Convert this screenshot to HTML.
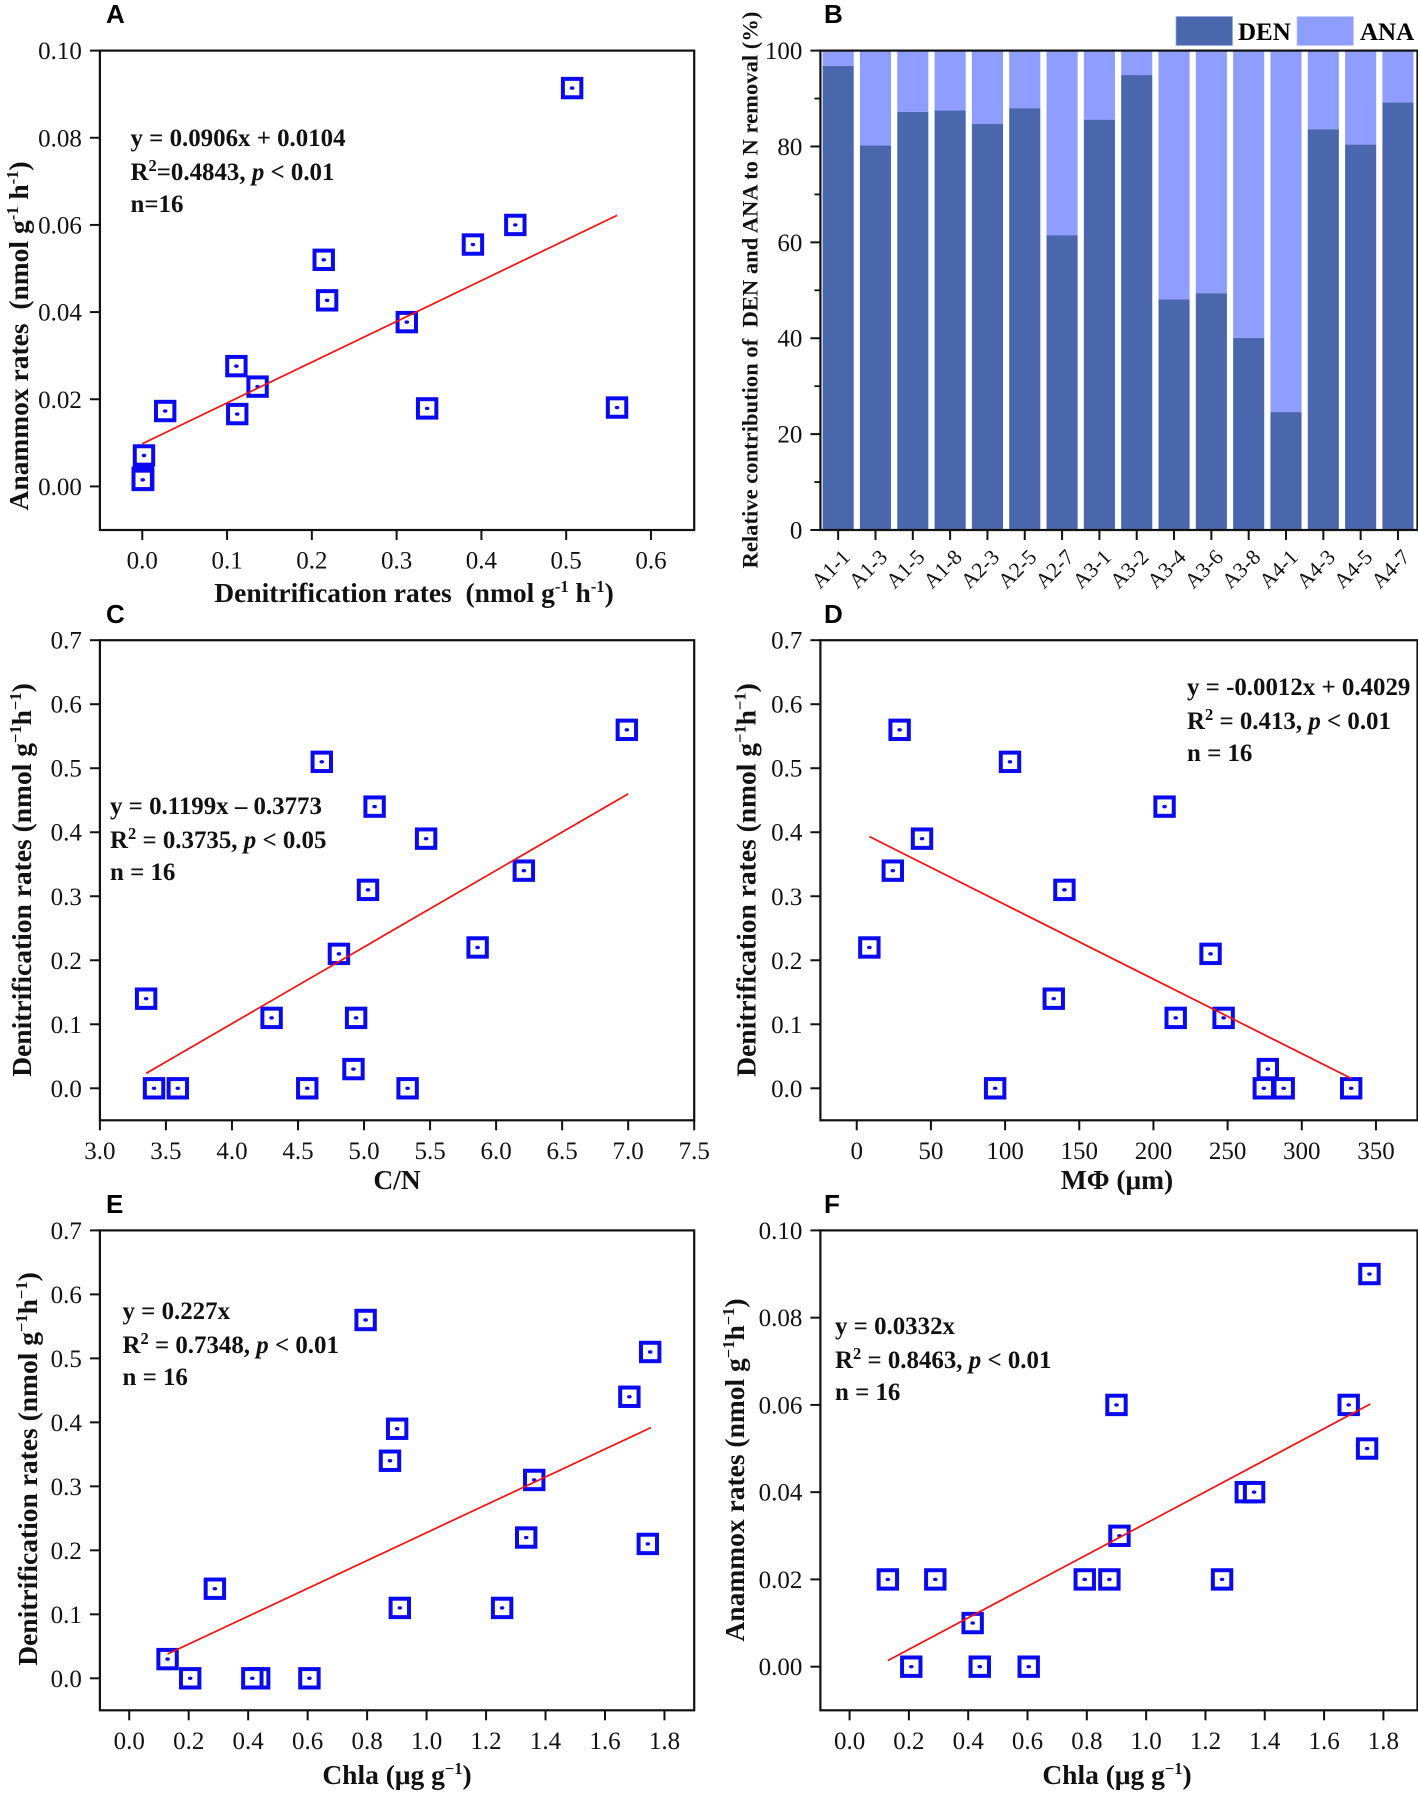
<!DOCTYPE html>
<html lang="en">
<head>
<meta charset="utf-8">
<title>Denitrification and anammox rates, six-panel figure</title>
<style>
  html, body { margin: 0; padding: 0; background: #fff; }
  svg { display: block; }
  text { font-family: "Liberation Serif", serif; fill: #111; }
  .tick { font-size: 25px; }
  .title { font-size: 27.5px; font-weight: bold; }
  .note { font-size: 24.9px; font-weight: bold; }
  .panel { font-family: "Liberation Sans", sans-serif; font-size: 26px; font-weight: bold; fill: #000; }
  .legend { font-size: 25px; font-weight: bold; fill: #000; }
  .sup { font-size: 16.5px; }
  .it { font-style: italic; }
</style>
</head>
<body>
<svg id="figure" xmlns="http://www.w3.org/2000/svg" width="1418" height="1793" viewBox="0 0 1418 1793">
  <rect width="1418" height="1793" fill="#fff"/>
  <g id="marks"></g>

  <g>
    <text class="panel" x="106" y="23">A</text>
    <text class="panel" x="824" y="23">B</text>
    <text class="panel" x="106" y="623">C</text>
    <text class="panel" x="824" y="623">D</text>
    <text class="panel" x="106" y="1213">E</text>
    <text class="panel" x="824" y="1213">F</text>
  </g>

  <g>
    <text class="title" text-anchor="middle" x="414" y="602">Denitrification rates&#160; (nmol g<tspan class="sup" dy="-10">-1</tspan><tspan dy="10"> h</tspan><tspan class="sup" dy="-10">-1</tspan><tspan dy="10">)</tspan></text>
    <text class="title" text-anchor="middle" transform="translate(28,336) rotate(-90)">Anammox rates&#160; (nmol g<tspan class="sup" dy="-10">-1</tspan><tspan dy="10"> h</tspan><tspan class="sup" dy="-10">-1</tspan><tspan dy="10">)</tspan></text>
    <text class="title" text-anchor="middle" transform="translate(757.5,290) rotate(-90)" style="font-size:22.6px">Relative contribution of&#160; DEN and ANA to N removal (%)</text>
    <text class="title" text-anchor="middle" x="397" y="1189">C/N</text>
    <text class="title" text-anchor="middle" transform="translate(31,880) rotate(-90)">Denitrification rates (nmol g<tspan class="sup" dy="-10">−1</tspan><tspan dy="10">h</tspan><tspan class="sup" dy="-10">−1</tspan><tspan dy="10">)</tspan></text>
    <text class="title" text-anchor="middle" x="1117" y="1189">MΦ (μm)</text>
    <text class="title" text-anchor="middle" transform="translate(755.5,880) rotate(-90)">Denitrification rates (nmol g<tspan class="sup" dy="-10">−1</tspan><tspan dy="10">h</tspan><tspan class="sup" dy="-10">−1</tspan><tspan dy="10">)</tspan></text>
    <text class="title" text-anchor="middle" x="397" y="1784">Chla (μg g<tspan class="sup" dy="-10">−1</tspan><tspan dy="10">)</tspan></text>
    <text class="title" text-anchor="middle" transform="translate(37,1469) rotate(-90)">Denitrification rates (nmol g<tspan class="sup" dy="-10">−1</tspan><tspan dy="10">h</tspan><tspan class="sup" dy="-10">−1</tspan><tspan dy="10">)</tspan></text>
    <text class="title" text-anchor="middle" x="1117" y="1784">Chla (μg g<tspan class="sup" dy="-10">−1</tspan><tspan dy="10">)</tspan></text>
    <text class="title" text-anchor="middle" transform="translate(744,1470) rotate(-90)">Anammox rates (nmol g<tspan class="sup" dy="-10">−1</tspan><tspan dy="10">h</tspan><tspan class="sup" dy="-10">−1</tspan><tspan dy="10">)</tspan></text>
  </g>

  <g>
    <g>
      <text class="note" x="130.5" y="146">y = 0.0906x + 0.0104</text>
      <text class="note" x="130.5" y="180">R<tspan class="sup" dy="-9">2</tspan><tspan dy="9">=0.4843, </tspan><tspan class="it">p</tspan> &lt; 0.01</text>
      <text class="note" x="130.5" y="212">n=16</text>
    </g>
    <g>
      <text class="note" x="110" y="814">y = 0.1199x – 0.3773</text>
      <text class="note" x="110" y="848">R<tspan class="sup" dy="-9">2</tspan><tspan dy="9"> = 0.3735, </tspan><tspan class="it">p</tspan> &lt; 0.05</text>
      <text class="note" x="110" y="880">n = 16</text>
    </g>
    <g>
      <text class="note" x="1187" y="695">y = -0.0012x + 0.4029</text>
      <text class="note" x="1187" y="729">R<tspan class="sup" dy="-9">2</tspan><tspan dy="9"> = 0.413, </tspan><tspan class="it">p</tspan> &lt; 0.01</text>
      <text class="note" x="1187" y="761">n = 16</text>
    </g>
    <g>
      <text class="note" x="122.5" y="1319">y = 0.227x</text>
      <text class="note" x="122.5" y="1353">R<tspan class="sup" dy="-9">2</tspan><tspan dy="9"> = 0.7348, </tspan><tspan class="it">p</tspan> &lt; 0.01</text>
      <text class="note" x="122.5" y="1385">n = 16</text>
    </g>
    <g>
      <text class="note" x="835" y="1334">y = 0.0332x</text>
      <text class="note" x="835" y="1368">R<tspan class="sup" dy="-9">2</tspan><tspan dy="9"> = 0.8463, </tspan><tspan class="it">p</tspan> &lt; 0.01</text>
      <text class="note" x="835" y="1400">n = 16</text>
    </g>
  </g>

  <g>
    <rect x="1176" y="16.5" width="56.5" height="29" fill="#4a66ac" stroke="#93a8e0" stroke-width="0.8"/>
    <text class="legend" x="1238" y="40">DEN</text>
    <rect x="1297" y="16.5" width="56.5" height="29" fill="#8f9dff" stroke="#c3cbff" stroke-width="0.8"/>
    <text class="legend" x="1360" y="40">ANA</text>
  </g>
</svg>

<script>
// Panel A: anammox vs denitrification
const aXValues = [0.507, 0.440, 0.390, 0.214, 0.218, 0.312, 0.111, 0.136, 0.027, 0.112, 0.336, 0.560, 0.0005, 0.001, 0.001, 0.0005];
const aYValues = [0.0914, 0.0600, 0.0555, 0.0520, 0.0427, 0.0377, 0.0276, 0.0229, 0.0173, 0.0166, 0.0179, 0.0181, 0.0020, 0.0018, 0.0015, 0.0015];
const aExtraX = [0.002];
const aExtraY = [0.0071];
const aLineX = [0.000, 0.560];
const aLineY = [0.0098, 0.0622];
const aXTicks = ['0.0', '0.1', '0.2', '0.3', '0.4', '0.5', '0.6'];
const aYTicks = ['0.00', '0.02', '0.04', '0.06', '0.08', '0.10'];

// Panel B: stacked bars
const bCategories = ['A1-1', 'A1-3', 'A1-5', 'A1-8', 'A2-3', 'A2-5', 'A2-7', 'A3-1', 'A3-2', 'A3-4', 'A3-6', 'A3-8', 'A4-1', 'A4-3', 'A4-5', 'A4-7'];
const bDen = [96.8, 80.2, 87.2, 87.5, 84.7, 88.0, 61.5, 85.6, 94.9, 48.1, 49.4, 40.1, 24.6, 83.6, 80.4, 89.2];
const bAna = [3.2, 19.8, 12.8, 12.5, 15.3, 12.0, 38.5, 14.4, 5.1, 51.9, 50.6, 59.9, 75.4, 16.4, 19.6, 10.8];
const bYTicks = ['0', '20', '40', '60', '80', '100'];
const bYMinorTicks = [10, 30, 50, 70, 90];

// Panel C: denitrification vs C/N
const cXValues = [3.35, 3.41, 3.59, 4.30, 4.57, 4.68, 4.81, 4.92, 4.94, 5.03, 5.08, 5.33, 5.47, 5.86, 6.21, 6.99];
const cYValues = [0.14, 0.00, 0.00, 0.11, 0.00, 0.51, 0.21, 0.03, 0.11, 0.31, 0.44, 0.00, 0.39, 0.22, 0.34, 0.56];
const cLineX = [3.35, 7.00];
const cLineY = [0.0233, 0.460];
const cXTicks = ['3.0', '3.5', '4.0', '4.5', '5.0', '5.5', '6.0', '6.5', '7.0', '7.5'];
const cYTicks = ['0.0', '0.1', '0.2', '0.3', '0.4', '0.5', '0.6', '0.7'];

// Panel D: denitrification vs mean grain size
const dXValues = [8.5, 24.3, 28.9, 44.0, 93.3, 103.3, 132.8, 140.0, 207.5, 215.0, 238.5, 247.3, 274.4, 277.1, 287.8, 333.3];
const dYValues = [0.22, 0.34, 0.56, 0.39, 0.00, 0.51, 0.14, 0.31, 0.44, 0.11, 0.21, 0.11, 0.00, 0.03, 0.00, 0.00];
const dLineX = [8.5, 333.3];
const dLineY = [0.3933, 0.0155];
const dXTicks = ['0', '50', '100', '150', '200', '250', '300', '350'];
const dYTicks = ['0.0', '0.1', '0.2', '0.3', '0.4', '0.5', '0.6', '0.7'];

// Panel E: denitrification vs Chla
const eXValues = [0.129, 0.205, 0.288, 0.437, 0.414, 0.606, 0.795, 0.877, 0.901, 0.910, 1.254, 1.335, 1.362, 1.682, 1.744, 1.752];
const eYValues = [0.03, 0.00, 0.14, 0.00, 0.00, 0.00, 0.56, 0.34, 0.39, 0.11, 0.11, 0.22, 0.31, 0.44, 0.21, 0.51];
const eLineX = [0.129, 1.755];
const eLineY = [0.038, 0.392];
const eXTicks = ['0.0', '0.2', '0.4', '0.6', '0.8', '1.0', '1.2', '1.4', '1.6', '1.8'];
const eYTicks = ['0.0', '0.1', '0.2', '0.3', '0.4', '0.5', '0.6', '0.7'];

// Panel F: anammox vs Chla
const fXValues = [0.129, 0.208, 0.289, 0.415, 0.439, 0.604, 0.793, 0.876, 0.900, 0.910, 1.256, 1.336, 1.364, 1.683, 1.745, 1.753];
const fYValues = [0.02, 0.00, 0.02, 0.01, 0.00, 0.00, 0.02, 0.02, 0.06, 0.03, 0.02, 0.04, 0.04, 0.06, 0.05, 0.09];
const fLineX = [0.129, 1.756];
const fLineY = [0.0014, 0.0602];
const fXTicks = ['0.0', '0.2', '0.4', '0.6', '0.8', '1.0', '1.2', '1.4', '1.6', '1.8'];
const fYTicks = ['0.00', '0.02', '0.04', '0.06', '0.08', '0.10'];

const SVG_NS = 'http://www.w3.org/2000/svg';
const root = document.getElementById('marks');

function make(tag, attrs, parent) {
  const node = document.createElementNS(SVG_NS, tag);
  for (const key in attrs) node.setAttribute(key, attrs[key]);
  parent.appendChild(node);
  return node;
}

function linearScale(d0, d1, r0, r1) {
  return function (v) { return r0 + (v - d0) / (d1 - d0) * (r1 - r0); };
}

function drawFrame(prefix, box, parent) {
  const frame = make('rect', { x: box.x0, y: box.y0, width: box.x1 - box.x0, height: box.y1 - box.y0, fill: 'none', stroke: '#111', 'stroke-width': 2.2 }, parent);
  
  
}

function drawYAxis(prefix, box, y, labels, parent) {
  const axis = make('g', {}, parent);
  
  
  labels.forEach(function (label) {
    const py = y(parseFloat(label));
    const tick = make('line', { x1: box.x0 - 10, x2: box.x0, y1: py, y2: py, stroke: '#111', 'stroke-width': 2 }, axis);
    
    
    const text = make('text', { class: 'tick', x: box.x0 - 18, y: py + 8.5, 'text-anchor': 'end' }, axis);
    text.textContent = label;
    
    
  });
}

function drawXAxis(prefix, box, x, labels, parent) {
  const axis = make('g', {}, parent);
  
  
  labels.forEach(function (label) {
    const px = x(parseFloat(label));
    const tick = make('line', { x1: px, x2: px, y1: box.y1, y2: box.y1 + 10, stroke: '#111', 'stroke-width': 2 }, axis);
    
    
    const text = make('text', { class: 'tick', x: px, y: box.y1 + 38.5, 'text-anchor': 'middle' }, axis);
    text.textContent = label;
    
    
  });
}

function drawScatter(prefix, box, xDomain, yDomain, xValues, yValues, lineX, lineY, xTicks, yTicks) {
  const group = make('g', {}, root);
  
  
  const x = linearScale(xDomain[0], xDomain[1], box.x0, box.x1);
  const y = linearScale(yDomain[0], yDomain[1], box.y1, box.y0);

  xValues.forEach(function (xv, i) {
    const px = x(xv);
    const py = y(yValues[i]);
    const point = make('g', {}, group);
    
    
    make('rect', { x: px - 9.2, y: py - 9.2, width: 18.4, height: 18.4, fill: '#fff', stroke: '#0a0af0', 'stroke-width': 4 }, point);
    make('ellipse', { cx: px, cy: py, rx: 2.3, ry: 1.7, fill: '#0a0af0' }, point);
  });

  const fit = make('line', { x1: x(lineX[0]), y1: y(lineY[0]), x2: x(lineX[1]), y2: y(lineY[1]), stroke: '#fb0d0d', 'stroke-width': 1.7 }, group);
  
  

  drawFrame(prefix, box, group);
  drawYAxis(prefix, box, y, yTicks, group);
  drawXAxis(prefix, box, x, xTicks, group);
}

function drawStackedBars(prefix, box, bandStart, step, categories, den, ana, yTicks, yMinor) {
  const group = make('g', {}, root);
  
  
  const y = linearScale(0, 100, box.y1, box.y0);
  const bandX = function (i) { return bandStart + step * (i + 0.5); };
  const barWidth = 31.1;

  categories.forEach(function (cat, i) {
    const cx = bandX(i);
    const lower = make('rect', { x: cx - barWidth / 2, y: y(den[i]), width: barWidth, height: y(0) - y(den[i]), fill: '#4a66ac' }, group);
    
    
    const upper = make('rect', { x: cx - barWidth / 2, y: y(den[i] + ana[i]), width: barWidth, height: y(den[i]) - y(den[i] + ana[i]), fill: '#8f9dff' }, group);
    
    
    const tick = make('line', { x1: cx, x2: cx, y1: box.y1, y2: box.y1 + 10, stroke: '#111', 'stroke-width': 2 }, group);
    
    
    const label = make('text', { 'text-anchor': 'middle', transform: 'translate(' + (cx - 2.5) + ',' + (box.y1 + 44) + ') rotate(-45)', style: 'font-size:21.5px' }, group);
    label.textContent = cat;
    
    
  });

  drawFrame(prefix, box, group);
  drawYAxis(prefix, box, y, yTicks, group);
  yMinor.forEach(function (v) {
    const minor = make('line', { x1: box.x0 - 6, x2: box.x0, y1: y(v), y2: y(v), stroke: '#111', 'stroke-width': 1.8 }, group);
    
    
  });
}

drawScatter('panel-a', { x0: 99.9, x1: 694.2, y0: 50.6, y1: 530 }, [-0.05, 0.651], [-0.01, 0.10], aXValues.concat(aExtraX), aYValues.concat(aExtraY), aLineX, aLineY, aXTicks, aYTicks);
drawStackedBars('panel-b', { x0: 820.4, x1: 1417.5, y0: 50.6, y1: 530 }, 819.5, 37.32, bCategories, bDen, bAna, bYTicks, bYMinorTicks);
drawScatter('panel-c', { x0: 99.9, x1: 694.2, y0: 640.2, y1: 1120.3 }, [3.0, 7.5], [-0.05, 0.7], cXValues, cYValues, cLineX, cLineY, cXTicks, cYTicks);
drawScatter('panel-d', { x0: 820.4, x1: 1417.5, y0: 640.2, y1: 1120.3 }, [-24.5, 378], [-0.05, 0.7], dXValues, dYValues, dLineX, dLineY, dXTicks, dYTicks);
drawScatter('panel-e', { x0: 99.9, x1: 694.2, y0: 1230.4, y1: 1710.3 }, [-0.0986, 1.9], [-0.05, 0.7], eXValues, eYValues, eLineX, eLineY, eXTicks, eYTicks);
drawScatter('panel-f', { x0: 820.4, x1: 1417.5, y0: 1230.4, y1: 1710.3 }, [-0.0984, 1.915], [-0.01, 0.10], fXValues, fYValues, fLineX, fLineY, fXTicks, fYTicks);
</script>
</body>
</html>
